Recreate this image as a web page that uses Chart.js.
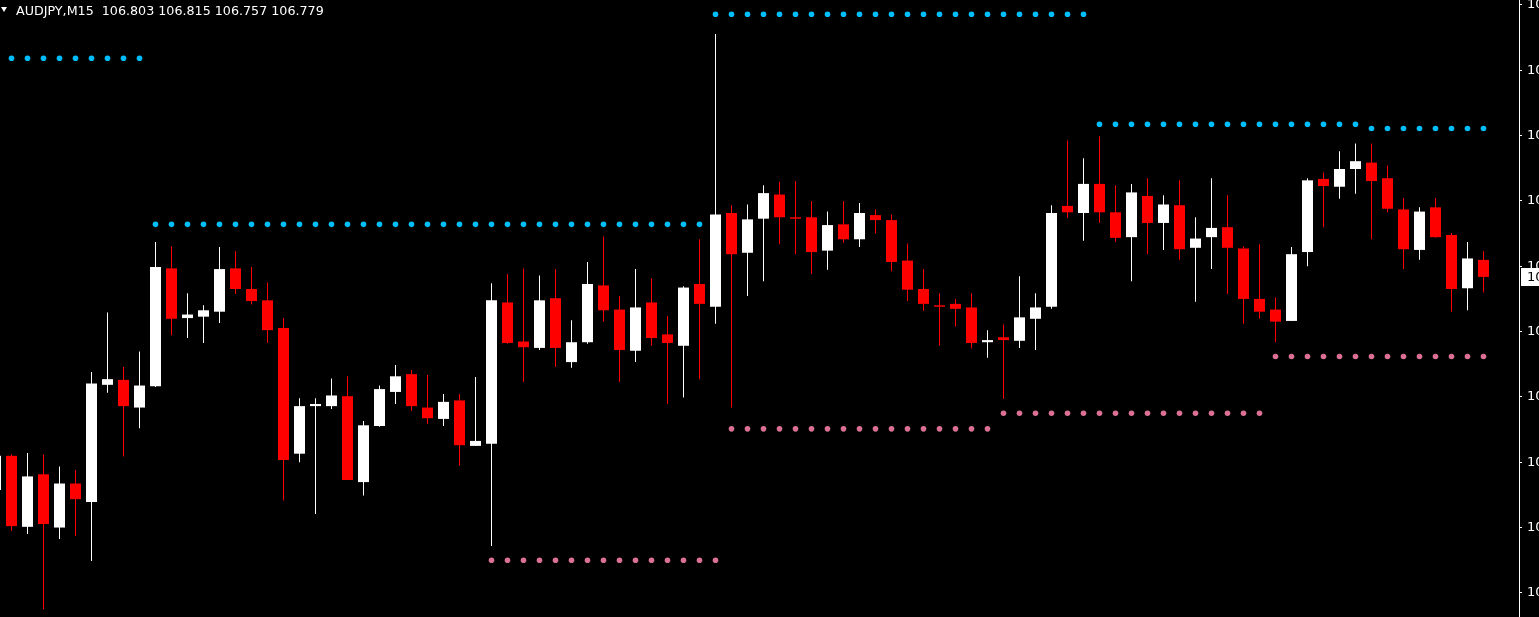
<!DOCTYPE html>
<html>
<head>
<meta charset="utf-8">
<title>AUDJPY,M15</title>
<script src="https://cdn.jsdelivr.net/npm/chart.js@4/dist/chart.umd.min.js"></script>
<style>
  html, body { margin: 0; padding: 0; background: #000; overflow: hidden; }
  #wrap { position: relative; width: 1539px; height: 617px; background: #000; }
  #chart { display: block; }
  #hdr { position: absolute; left: 16px; top: 3px; font: 12.7px "DejaVu Sans", sans-serif; line-height: 15px; color: #fff; white-space: pre; }
  #tri { position: absolute; left: 1px; top: 7px; width: 0; height: 0;
         border-left: 3.5px solid transparent; border-right: 3.5px solid transparent; border-top: 5px solid #fff; }
</style>
</head>
<body>
<div id="wrap">
  <canvas id="chart" width="1539" height="617"></canvas>
  <div id="tri"></div>
  <div id="hdr"></div>
</div>
<script>
// ====================== Data ======================
const symbol = 'AUDJPY';
const period = 'M15';
const firstIndex = -1; // first bar is only partly visible at the left edge

const opens = [
  106.479, 106.527, 106.427, 106.501, 106.426, 106.488, 106.462, 106.627, 106.634, 106.595,
  106.625, 106.791, 106.721, 106.723, 106.730, 106.791, 106.762, 106.746, 106.707, 106.530,
  106.597, 106.597, 106.611, 106.490, 106.569, 106.617, 106.642, 106.595, 106.579, 106.605,
  106.541, 106.544, 106.743, 106.688, 106.679, 106.749, 106.659, 106.687, 106.767, 106.733,
  106.675, 106.743, 106.698, 106.682, 106.769, 106.737, 106.869, 106.813, 106.861, 106.895,
  106.863, 106.863, 106.816, 106.853, 106.832, 106.866, 106.859, 106.802, 106.762, 106.739,
  106.741, 106.736, 106.687, 106.694, 106.689, 106.720, 106.737, 106.879, 106.869, 106.910,
  106.870, 106.835, 106.893, 106.855, 106.880, 106.820, 106.835, 106.849, 106.819, 106.748,
  106.733, 106.717, 106.814, 106.917, 106.906, 106.931, 106.940, 106.918, 106.874, 106.817,
  106.877, 106.838, 106.763, 106.803
];
const highs = [
  106.532, 106.529, 106.531, 106.529, 106.512, 106.507, 106.645, 106.729, 106.652, 106.674,
  106.828, 106.822, 106.756, 106.739, 106.821, 106.815, 106.793, 106.771, 106.721, 106.608,
  106.608, 106.636, 106.639, 106.576, 106.626, 106.655, 106.648, 106.641, 106.614, 106.614,
  106.638, 106.770, 106.783, 106.791, 106.781, 106.790, 106.718, 106.800, 106.836, 106.752,
  106.790, 106.777, 106.724, 106.766, 106.832, 107.121, 106.880, 106.881, 106.908, 106.913,
  106.914, 106.886, 106.871, 106.886, 106.883, 106.874, 106.867, 106.826, 106.790, 106.756,
  106.748, 106.756, 106.704, 106.712, 106.780, 106.756, 106.880, 106.971, 106.946, 106.977,
  106.908, 106.910, 106.918, 106.894, 106.915, 106.863, 106.918, 106.894, 106.822, 106.825,
  106.750, 106.821, 106.918, 106.926, 106.956, 106.967, 106.967, 106.936, 106.890, 106.877,
  106.890, 106.841, 106.828, 106.815
];
const lows = [
  106.473, 106.421, 106.417, 106.311, 106.410, 106.414, 106.379, 106.616, 106.526, 106.566,
  106.624, 106.697, 106.693, 106.686, 106.714, 106.755, 106.740, 106.686, 106.464, 106.518,
  106.445, 106.593, 106.493, 106.471, 106.568, 106.600, 106.590, 106.572, 106.569, 106.513,
  106.541, 106.400, 106.685, 106.631, 106.676, 106.652, 106.651, 106.685, 106.716, 106.631,
  106.659, 106.682, 106.600, 106.609, 106.635, 106.713, 106.595, 106.752, 106.773, 106.825,
  106.811, 106.783, 106.789, 106.827, 106.821, 106.840, 106.787, 106.745, 106.731, 106.682,
  106.709, 106.678, 106.665, 106.607, 106.679, 106.676, 106.734, 106.862, 106.830, 106.855,
  106.828, 106.773, 106.811, 106.817, 106.803, 106.744, 106.790, 106.755, 106.713, 106.720,
  106.687, 106.717, 106.794, 106.849, 106.889, 106.896, 106.832, 106.870, 106.790, 106.803,
  106.834, 106.730, 106.732, 106.757
];
const closes = [
  106.527, 106.428, 106.498, 106.431, 106.488, 106.466, 106.629, 106.635, 106.597, 106.626,
  106.793, 106.720, 106.726, 106.732, 106.790, 106.762, 106.745, 106.704, 106.521, 106.597,
  106.600, 106.612, 106.493, 106.570, 106.621, 106.639, 106.597, 106.580, 106.603, 106.542,
  106.548, 106.746, 106.686, 106.680, 106.746, 106.679, 106.687, 106.769, 106.732, 106.676,
  106.736, 106.693, 106.686, 106.764, 106.741, 106.867, 106.811, 106.860, 106.897, 106.863,
  106.861, 106.814, 106.852, 106.832, 106.869, 106.859, 106.800, 106.761, 106.741, 106.737,
  106.734, 106.686, 106.690, 106.690, 106.722, 106.736, 106.869, 106.870, 106.910, 106.870,
  106.834, 106.898, 106.855, 106.881, 106.818, 106.833, 106.848, 106.820, 106.748, 106.730,
  106.716, 106.811, 106.915, 106.907, 106.931, 106.942, 106.914, 106.875, 106.818, 106.871,
  106.835, 106.762, 106.805, 106.779
];

// upper (blue) and lower (pink) dotted levels: first bar, last bar, price
const resStart = [0, 9, 44, 68, 85];
const resEnd   = [8, 43, 67, 84, 92];
const resPrice = [107.087, 106.853, 107.149, 106.994, 106.988];
const supStart = [30, 45, 62, 79];
const supEnd   = [44, 61, 78, 92];
const supPrice = [106.380, 106.565, 106.587, 106.667];

// price axis
const yTicks = [106.334, 106.426, 106.518, 106.610, 106.702, 106.794, 106.886, 106.978, 107.070, 107.162];
const yMin = 106.300;
const yMax = 107.169;

// ====================== Style ======================
const bullColor = '#ffffff';
const bearColor = '#ff0000';
const resColor = '#00bfff';
const supColor = '#db7093';
const barStep = 16;      // px per bar
const firstBarPx = 11.5; // centre of bar 0
const axisWidth = 20;

Chart.defaults.font.family = '"DejaVu Sans", sans-serif';

// ====================== Build ======================
const xs = opens.map((_, i) => i + firstIndex);
const barColors = opens.map((o, i) => (closes[i] >= o ? bullColor : bearColor));

function levelDots(starts, ends, prices) {
  const pts = [];
  starts.forEach((s, k) => {
    for (let i = s; i <= ends[k]; i++) pts.push({ x: i, y: prices[k] });
  });
  return pts;
}

const plotWidth = 1539 - axisWidth;
const xMin = -firstBarPx / barStep;
const xMax = xMin + plotWidth / barStep;

const last = opens.length - 1;
document.getElementById('hdr').textContent =
  symbol + ',' + period + '  ' +
  [opens[last], highs[last], lows[last], closes[last]].map(v => v.toFixed(3)).join(' ');

// last price box on the axis
const lastPriceLabel = {
  id: 'lastPriceLabel',
  afterDraw(chart) {
    const ys = chart.scales.y;
    const y = Math.round(ys.getPixelForValue(closes[last]));
    const c = chart.ctx;
    c.save();
    c.fillStyle = '#ffffff';
    c.fillRect(ys.left + 2, y - 9, chart.width - ys.left - 2, 18);
    c.fillStyle = '#000000';
    c.font = '13px "DejaVu Sans"';
    c.textBaseline = 'middle';
    c.fillText(closes[last].toFixed(3), ys.left + 8, y + 1);
    c.restore();
  }
};

// ====================== Chart ======================
new Chart(document.getElementById('chart').getContext('2d'), {
  type: 'bar',
  data: {
    datasets: [
      {
        label: 'wick',
        data: xs.map((x, i) => ({ x, y: [lows[i], highs[i]] })),
        backgroundColor: barColors,
        borderWidth: 0,
        barThickness: 1,
        inflateAmount: 0,
        grouped: false,
        order: 3
      },
      {
        label: 'body',
        data: xs.map((x, i) => ({ x, y: [opens[i], closes[i]] })),
        backgroundColor: barColors,
        borderWidth: 0,
        barThickness: 11,
        minBarLength: 1,
        inflateAmount: 0,
        grouped: false,
        order: 2
      },
      {
        type: 'line',
        label: 'resistance',
        data: levelDots(resStart, resEnd, resPrice),
        showLine: false,
        pointRadius: 2.8,
        pointBorderWidth: 0,
        pointBackgroundColor: resColor,
        order: 1
      },
      {
        type: 'line',
        label: 'support',
        data: levelDots(supStart, supEnd, supPrice),
        showLine: false,
        pointRadius: 2.8,
        pointBorderWidth: 0,
        pointBackgroundColor: supColor,
        order: 1
      }
    ]
  },
  options: {
    responsive: false,
    animation: false,
    events: [],
    layout: { padding: 0, autoPadding: false },
    plugins: { legend: { display: false }, tooltip: { enabled: false } },
    scales: {
      x: { type: 'linear', display: false, offset: false, min: xMin, max: xMax },
      y: {
        type: 'linear',
        position: 'right',
        min: yMin,
        max: yMax,
        afterBuildTicks: (axis) => { axis.ticks = yTicks.map(v => ({ value: v })); },
        afterFit: (axis) => {
          axis.width = axisWidth;
          axis.paddingTop = 0;
          axis.paddingBottom = 0;
        },
        ticks: {
          color: '#ffffff',
          padding: 5,
          font: { size: 13 },
          callback: (v) => Number(v).toFixed(3)
        },
        grid: { drawOnChartArea: false, drawTicks: true, tickLength: 3, color: '#ffffff' },
        border: { display: true, color: '#ffffff', width: 1 }
      }
    }
  },
  plugins: [lastPriceLabel]
});
</script>
</body>
</html>
